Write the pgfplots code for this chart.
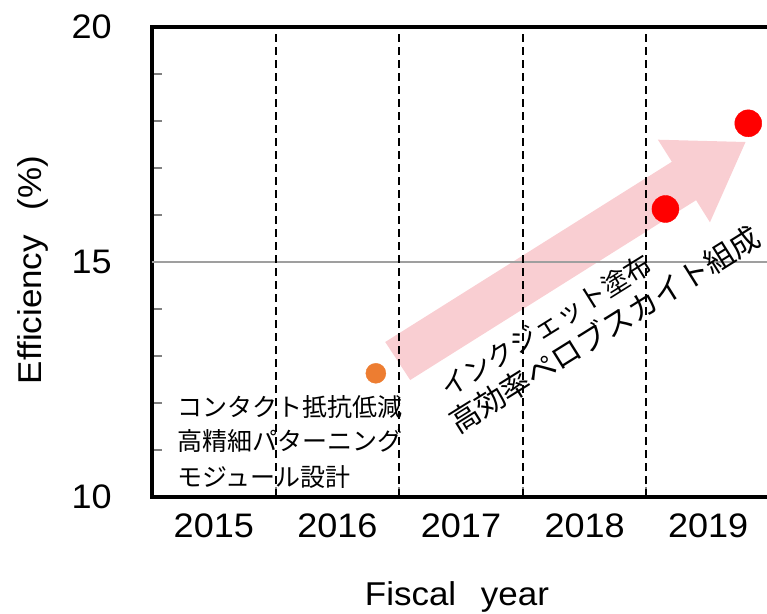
\documentclass[border=0pt]{standalone}
\usepackage{pgfplots}
\pgfplotsset{compat=1.18}
\usepackage{fontspec}
\setmainfont{Liberation Sans}[FakeStretch=1.06]
\newfontfamily\jp{Noto Sans CJK JP}
\definecolor{myorange}{RGB}{237,125,49}
\definecolor{myred}{RGB}{255,0,0}
\definecolor{mypink}{RGB}{249,206,210}
\begin{document}
\begin{tikzpicture}
\useasboundingbox (-152pt,-116pt) rectangle (615pt,497pt);
\begin{axis}[
  at={(0,0)}, anchor=south west,
  scale only axis, width=618pt, height=470pt,
  xmin=2014.5, xmax=2019.5, ymin=10, ymax=20,
  separate axis lines,
  axis line style={line width=3.8pt, line cap=rect},
  xtick={2015,2016,2017,2018,2019},
  xticklabels={2015,2016,2017,2018,2019},
  major x tick style={draw=none},
  minor xtick={2015.5,2016.5,2017.5,2018.5},
  minor x tick style={line width=2pt},
  ytick={10,15,20},
  minor ytick={11,12,13,14,16,17,18,19},
  major y tick style={line width=2pt},
  minor y tick style={line width=2pt},
  major tick length=14pt, minor tick length=10pt,
  tick align=inside,
  xtick pos=bottom, ytick pos=left,
  /pgf/number format/assume math mode=true,
  tick label style={font=\fontsize{34}{40}\selectfont},
  xticklabel style={anchor=base, inner sep=0pt, yshift=-40pt},
  yticklabel style={anchor=east, inner sep=0pt, xshift=-40pt},
  xlabel={Fiscal\hspace{0.75em}year},
  ylabel={Efficiency\hspace{0.75em}(\%)},
  label style={font=\fontsize{33}{40}\selectfont},
  xlabel style={at={(axis description cs:0.4935,-0.2298)}, anchor=base, inner sep=0pt},
  ylabel style={at={(axis description cs:-0.193,0.483)}, anchor=center, inner sep=0pt},
  clip=false,
]
% pink trend arrow (annotation)
\fill[mypink] (axis cs:2016.387,13.298) -- (axis cs:2016.589,12.489)
  -- (axis cs:2018.902,16.315) -- (axis cs:2019.014,15.845)
  -- (axis cs:2019.302,17.553) -- (axis cs:2018.593,17.602)
  -- (axis cs:2018.706,17.132) -- cycle;
% reference lines
\draw[gray!75, line width=1.8pt] (axis cs:2014.5,15) -- (axis cs:2019.5,15);
\foreach \xv in {2015.5,2016.5,2017.5,2018.5}{
  \edef\tmp{\noexpand\draw[black, line width=2pt, dash pattern=on 8pt off 5pt] (axis cs:\xv,10) -- (axis cs:\xv,20);}
  \tmp
}
% data
\addplot[only marks, mark=*, mark size=10pt, color=myorange] coordinates {(2016.311,12.632)};
\addplot[only marks, mark=*, mark size=13.5pt, color=myred] coordinates {(2018.654,16.128) (2019.324,17.951)};
% annotations
\node[anchor=base west, inner sep=0pt, font=\jp\fontsize{25}{30}\selectfont] at (axis cs:2014.702,11.723) {コンタクト抵抗低減};
\node[anchor=base west, inner sep=0pt, font=\jp\fontsize{25}{30}\selectfont] at (axis cs:2014.702,10.979) {高精細パターニング};
\node[anchor=base west, inner sep=0pt, font=\jp\fontsize{25}{30}\selectfont] at (axis cs:2014.702,10.234) {モジュール設計};
\node[anchor=base west, inner sep=0pt, rotate=32, font=\jp\fontsize{27}{30}\selectfont] at (axis cs:2016.90,12.09) {インクジェット塗布};
\node[anchor=base west, inner sep=0pt, rotate=32, font=\jp\fontsize{30}{30}\selectfont] at (axis cs:2016.975,11.32) {高効率ペロブスカイト組成};
\end{axis}
\end{tikzpicture}
\end{document}
